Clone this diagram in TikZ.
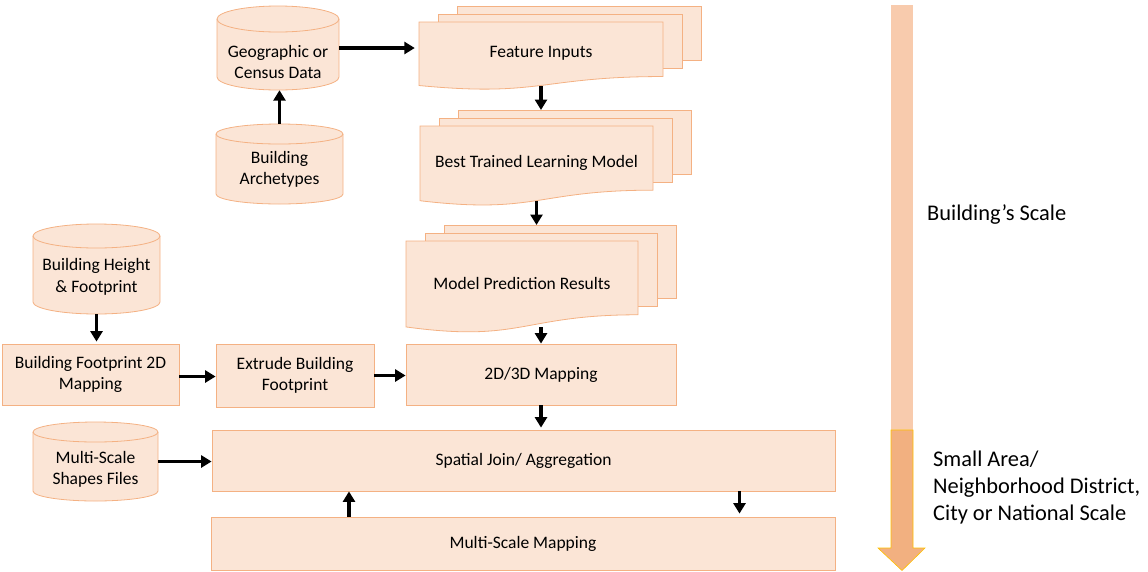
\documentclass[tikz,border=0pt]{standalone}
\usepackage{fontspec}
\setmainfont{Carlito}
\usepackage{tikz}
\usetikzlibrary{arrows.meta}

\definecolor{boxfill}{RGB}{251,229,214}
\definecolor{boxline}{RGB}{244,177,131}
\definecolor{scalelight}{RGB}{248,203,173}
\definecolor{scaledark}{RGB}{242,176,128}
\definecolor{scaleedge}{RGB}{255,192,0}

\newcommand{\boxfont}{\fontsize{17.5}{21.5}\selectfont}
\newcommand{\sidefont}{\fontsize{22.4}{27}\selectfont}

\tikzset{
  procbox/.style={draw=boxline,fill=boxfill,line width=0.8pt,align=center,font=\boxfont},
  pagebox/.style={draw=boxline,fill=boxfill,line width=0.8pt},
  boxtext/.style={align=center,font=\boxfont},
  sidetext/.style={align=left,anchor=west,inner sep=0pt,font=\sidefont},
  flow/.style={->,black,line width=3.3pt},
}

% stack of three pages: name, left, top, width, height, text
\newcommand{\multidoc}[6]{%
  \draw[pagebox] (#2+38,#3-16) rectangle (#2+#4+38,#3+0.802*#5-16);
  \draw[pagebox] (#2+19,#3-8) rectangle (#2+#4+19,#3+0.802*#5-8);
  \draw[pagebox] (#2,#3) -- (#2+#4,#3) -- (#2+#4,#3+0.802*#5)
     .. controls (#2+0.5*#4,#3+0.802*#5) and (#2+0.5*#4,#3+1.107*#5) .. (#2,#3+0.934*#5) -- cycle;
  \coordinate (#1-top) at (#2+0.5*#4+38,#3-16);
  \node[boxtext,minimum width=#4pt,minimum height=0.934*#5pt] (#1) at (#2+0.5*#4,#3+0.467*#5) {#6};
}

% data cylinder: name, cx, cy, width, height, cap radius, text drop, text
\newcommand{\database}[8]{%
  \draw[pagebox] (#2-0.5*#4,#3-0.5*#5+#6) -- (#2-0.5*#4,#3+0.5*#5-#6)
     arc[start angle=180,end angle=360,x radius=0.5*#4pt,y radius=#6pt]
     -- (#2+0.5*#4,#3-0.5*#5+#6)
     arc[start angle=0,end angle=180,x radius=0.5*#4pt,y radius=#6pt] -- cycle;
  \draw[pagebox,fill=none] (#2-0.5*#4,#3-0.5*#5+#6)
     arc[start angle=180,end angle=360,x radius=0.5*#4pt,y radius=#6pt];
  \node[minimum width=#4pt,minimum height=#5pt,
        label={[boxtext,yshift=-#7pt]center:#8}] (#1) at (#2,#3) {};
}

\begin{document}
\begin{tikzpicture}[x=1pt,y=-1pt,>={Triangle[length=10.5pt,width=12pt]}]
\useasboundingbox (0,0) rectangle (1148,571);

% data sources
\database{geo}{278}{48}{122}{84}{13}{14}{Geographic or\\Census Data}
\database{arch}{279.5}{164}{127}{80}{10}{5.5}{Building\\Archetypes}
\database{height}{96.5}{269}{127}{90}{12}{8}{Building Height\\\& Footprint}
\database{shapes}{95.5}{461.5}{125}{79}{10}{8}{Multi-Scale\\Shapes Files}

% model chain
\multidoc{feat}{419}{22}{244}{68}{Feature Inputs}
\multidoc{best}{420}{126}{233}{80}{Best Trained Learning Model}
\multidoc{model}{406}{241}{232}{92}{Model Prediction Results}

% processing steps
\node[procbox,minimum width=177pt,minimum height=61pt] (fp2d) at (90.5,374.5) {Building Footprint 2D\\Mapping};
\node[procbox,minimum width=158pt,minimum height=63pt] (extrude) at (295,375.5) {Extrude Building\\Footprint};
\node[procbox,minimum width=270pt,minimum height=61pt] (map23) at (541,374.5) {2D/3D Mapping};
\node[procbox,minimum width=623pt,minimum height=61pt] (join) at (523.5,460.5) {Spatial Join/ Aggregation};
\node[procbox,minimum width=624pt,minimum height=53pt] (mmap) at (523,543.5) {Multi-Scale Mapping};

% connectors
\draw[flow] (arch.north) -- (arch.north |- geo.south);
\draw[flow,shorten >=4pt] (geo.east) -- (geo.east -| feat.west);
\draw[flow] (feat.south) -- (feat.south |- best-top);
\draw[flow] (best.south) -- (best.south |- model-top);
\draw[flow] (map23.north |- model.south) -- (map23.north);
\draw[flow,shorten >=2pt] (height.south) -- (height.south |- fp2d.north);
\draw[flow] ([yshift=-2pt]fp2d.east) -- ([yshift=-2pt]fp2d.east -| extrude.west);
\draw[flow] (extrude.east) -- (extrude.east -| map23.west);
\draw[flow,shorten >=2pt] (map23.south) -- (map23.south |- join.north);
\draw[flow] (shapes.east) -- (shapes.east -| join.west);
\draw[flow] ([xshift=-174pt]mmap.north) -- ([xshift=-174pt]mmap.north |- join.south);
\draw[flow,shorten >=3pt] ([xshift=216pt]join.south) -- ([xshift=216pt]join.south |- mmap.north);

% scale arrow
\fill[scalelight] (891,5) rectangle (913,430);
\filldraw[fill=scaledark,draw=scaleedge,line width=0.6pt]
  (891,430) -- (913,430) -- (913,548) -- (925,548) -- (902,570.5) -- (878,548) -- (891,548) -- cycle;
\node[sidetext] (bscale) at (927,215) {Building’s Scale};
\node[sidetext] (ascale) at (933,488) {Small Area/\\Neighborhood District,\\City or National Scale};
\end{tikzpicture}
\end{document}
